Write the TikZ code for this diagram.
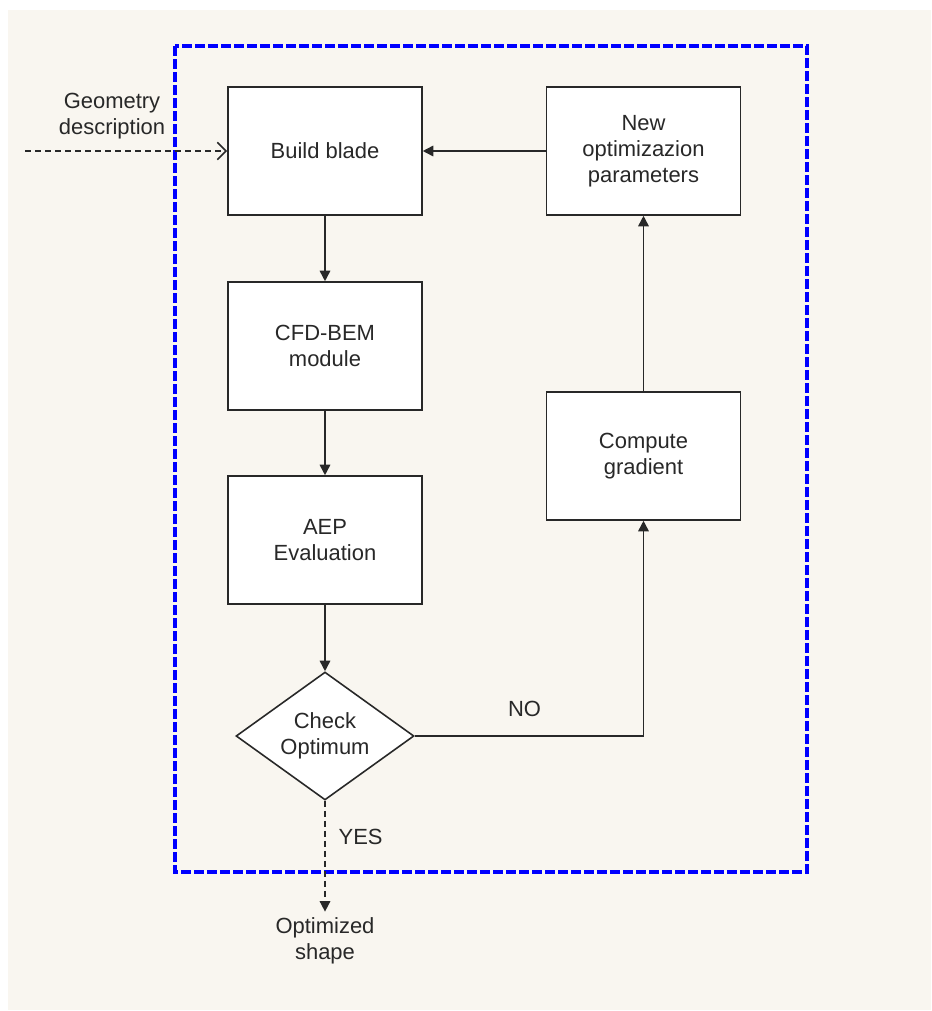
\documentclass[tikz,border=0pt]{standalone}
\usepackage{fontspec}
\setmainfont{Liberation Sans}
\usetikzlibrary{shapes.geometric,arrows.meta}
\definecolor{paper}{RGB}{249,246,240}
\definecolor{ink}{RGB}{40,40,40}
\begin{document}
\begin{tikzpicture}[x=0.02cm,y=-0.02cm,
    font=\fontsize{12.5}{14.7}\selectfont, text=ink,
    block/.style={draw=ink,line width=0.9pt,fill=white,minimum width=3.88cm,minimum height=2.56cm,align=center},
    check/.style={diamond,draw=ink,line width=0.9pt,fill=white,aspect=1.39,inner sep=0pt,minimum width=3.56cm,minimum height=2.56cm,align=center},
    flow/.style={draw=ink,line width=0.9pt,-{Triangle[length=6pt,width=6pt]}},
    dflow/.style={flow,dash pattern=on 3.4pt off 2.3pt}]
      \useasboundingbox (0,0) rectangle (931,1011);
      \fill[paper] (8,10) rectangle (931,1010);
      \draw[blue,line width=2.3pt,dash pattern=on 5.7pt off 1.7pt] (175,46) rectangle (807,872);
      \node[block] (build) at (325,151) {Build blade};
      \node[block] (cfd) at (325,346) {CFD-BEM\\module};
      \node[block] (aep) at (325,540) {AEP\\Evaluation};
      \node[check] (chk) at (325,736) {Check\\Optimum};
      \node[block] (grad) at (643.5,456) {Compute\\gradient};
      \node[block] (param) at (643.5,151) {New\\optimizazion\\parameters};
      \node[align=center] (geo) at (112,116) {Geometry\\description};
      \node[align=center] (opt) at (325,941) {Optimized\\shape};
      \coordinate (in) at (25,151);
      \draw[draw=ink,line width=0.9pt,dash pattern=on 3.4pt off 2.3pt,-{Straight Barb[length=5pt,width=10pt]}] (in) -- (build);
      \draw[flow] (build) -- (cfd);
      \draw[flow] (cfd) -- (aep);
      \draw[flow] (aep) -- (chk);
      \draw[flow] (chk.east) -| node[pos=0.24,above=7pt] (no) {NO} (grad.south);
      \draw[flow] (grad) -- (param);
      \draw[flow] (param) -- (build);
      \draw[dflow] (chk.south) -- node[pos=0.33,right=4pt] (yes) {YES} (opt.north);
\end{tikzpicture}
\end{document}
